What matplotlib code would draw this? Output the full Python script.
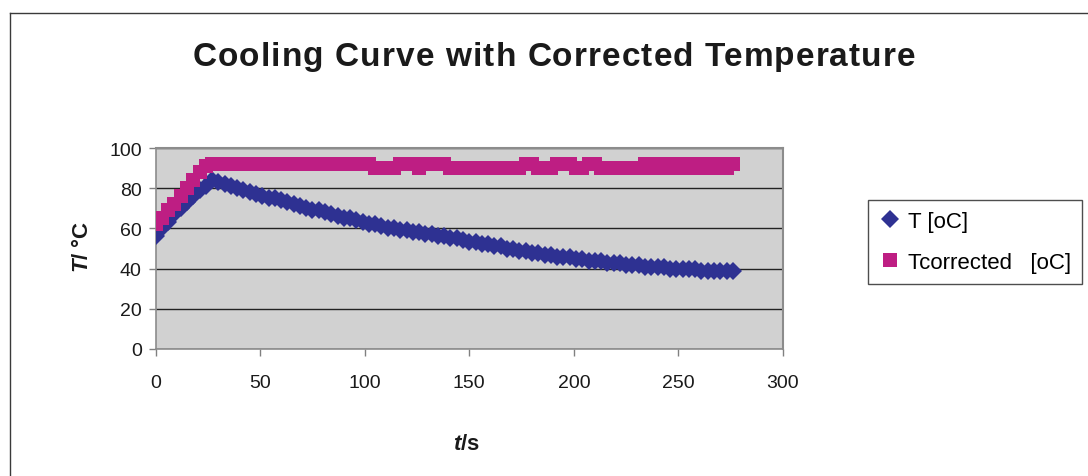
import matplotlib
matplotlib.use("Agg")
import matplotlib.pyplot as plt
from matplotlib.lines import Line2D

plt.rcParams["font.family"] = ["Liberation Sans", "DejaVu Sans"]
plt.rcParams["mathtext.fontset"] = "custom"
plt.rcParams["mathtext.rm"] = "Liberation Sans:bold"
plt.rcParams["mathtext.it"] = "Liberation Sans:italic:bold"
plt.rcParams["mathtext.bf"] = "Liberation Sans:bold"

# time in seconds
time_s = [0, 3, 6, 9, 12, 15, 18, 21, 24, 27,
          30, 33, 36, 39, 42, 45, 48, 51, 54, 57,
          60, 63, 66, 69, 72, 75, 78, 81, 84, 87,
          90, 93, 96, 99, 102, 105, 108, 111, 114, 117,
          120, 123, 126, 129, 132, 135, 138, 141, 144, 147,
          150, 153, 156, 159, 162, 165, 168, 171, 174, 177,
          180, 183, 186, 189, 192, 195, 198, 201, 204, 207,
          210, 213, 216, 219, 222, 225, 228, 231, 234, 237,
          240, 243, 246, 249, 252, 255, 258, 261, 264, 267,
          270, 273, 276]

# measured temperature [oC]
temp_measured = [56, 60, 63, 67, 70, 73, 76, 79, 81, 84,
                 83, 82, 81, 80, 79, 78, 77, 76, 75, 75,
                 74, 73, 72, 71, 70, 69, 69, 68, 67, 66,
                 65, 65, 64, 63, 62, 62, 61, 60, 60, 59,
                 59, 58, 58, 57, 57, 56, 56, 55, 55, 54,
                 53, 53, 52, 52, 51, 51, 50, 50, 49, 49,
                 48, 48, 47, 47, 46, 46, 46, 45, 45, 44,
                 44, 44, 43, 43, 43, 42, 42, 42, 41, 41,
                 41, 41, 40, 40, 40, 40, 40, 39, 39, 39,
                 39, 39, 39]

# corrected temperature [oC]
temp_corrected = [62, 65, 69, 72, 76, 80, 84, 88, 91, 92,
                  92, 92, 92, 92, 92, 92, 92, 92, 92, 92,
                  92, 92, 92, 92, 92, 92, 92, 92, 92, 92,
                  92, 92, 92, 92, 92, 90, 90, 90, 90, 92,
                  92, 92, 90, 92, 92, 92, 92, 90, 90, 90,
                  90, 90, 90, 90, 90, 90, 90, 90, 90, 92,
                  92, 90, 90, 90, 92, 92, 92, 90, 90, 92,
                  92, 90, 90, 90, 90, 90, 90, 90, 92, 90,
                  92, 90, 92, 90, 92, 90, 92, 90, 92, 90,
                  92, 90, 92]

y_ticks = [0, 20, 40, 60, 80, 100]
x_ticks = [0, 50, 100, 150, 200, 250, 300]

title = "Cooling Curve with Corrected Temperature"
series_labels = ["T [oC]", "Tcorrected   [oC]"]

W, H = 1088, 477
fig = plt.figure(figsize=(W / 100, H / 100), dpi=100)
fig.patch.set_facecolor("white")

# outer chart frame
frame_kw = dict(color="#3a3a3a", lw=1.0, transform=fig.transFigure)
fig.add_artist(Line2D([10 / W, 10 / W], [1 - 14 / H, -0.01], **frame_kw))
fig.add_artist(Line2D([10 / W, 1.01], [1 - 14 / H, 1 - 14 / H], **frame_kw))

left, right = 155.6 / W, 783 / W
bottom, top = 1 - 350 / H, 1 - 149 / H
ax = fig.add_axes([left, bottom, right - left, top - bottom])
ax.set_facecolor("#d1d1d1")

ax.plot(time_s, temp_measured, linestyle="none", marker="D", markersize=9.5,
        color="#2e3192", markeredgewidth=0, label=series_labels[0], zorder=3)
ax.plot(time_s, temp_corrected, linestyle="none", marker="s", markersize=10.5,
        color="#be1e83", markeredgewidth=0, label=series_labels[1], zorder=4)

ax.set_xlim(0, 300)
ax.set_ylim(0, 100)
ax.set_xticks(x_ticks)
ax.set_yticks(y_ticks)
ax.yaxis.grid(True, color="#222222", lw=1.0)
ax.set_axisbelow(True)

for side in ("top", "right"):
    ax.spines[side].set_color("#8c8c8c")
    ax.spines[side].set_linewidth(1.5)
for side in ("left", "bottom"):
    ax.spines[side].set_color("#8c8c8c")
    ax.spines[side].set_linewidth(1.2)

ax.tick_params(axis="both", direction="out", length=5, width=1, color="#808080",
               labelsize=14, labelcolor="#1a1a1a")
ax.tick_params(axis="x", pad=13)
ax.tick_params(axis="y", pad=5)


def spaced_text(text, cx, cy, width_px, **kw):
    """Draw text letter by letter, spread evenly over width_px pixels."""
    renderer = fig.canvas.get_renderer()
    probe = fig.text(0, 0, "", **kw)

    def natural(s):
        probe.set_text(s)
        return probe.get_window_extent(renderer).width

    full = natural(text)
    gap = (width_px - full) / (len(text) - 1)
    x0 = cx - width_px / 2
    for i, ch in enumerate(text):
        if ch == " ":
            continue
        xr = x0 + natural(text[:i + 1]) + i * gap
        fig.text(xr / W, cy / H, ch, ha="right", va="center", **kw)
    probe.remove()


spaced_text(title, 554, H - 57, 723, fontsize=24, fontweight="bold",
            color="#1a1a1a")

fig.text(82 / W, 1 - 247 / H, r"$\mathit{T}$/ °C", rotation=90, ha="center",
         va="center", fontsize=16, fontweight="bold", color="#1a1a1a")
fig.text(466 / W, 1 - 445 / H, r"$\mathit{t}$/s", ha="center", va="center",
         fontsize=16, fontweight="bold", color="#1a1a1a")

leg = ax.legend(loc="upper left", bbox_to_anchor=(868 / W, 1 - 201 / H),
                bbox_transform=fig.transFigure, frameon=True, fancybox=False,
                fontsize=16, handlelength=1.0, handletextpad=0.3,
                borderpad=0.5, labelspacing=0.9, borderaxespad=0)
leg.get_frame().set_edgecolor("#222222")
leg.get_frame().set_linewidth(1.0)

fig.savefig("out.png", dpi=100, facecolor="white")
